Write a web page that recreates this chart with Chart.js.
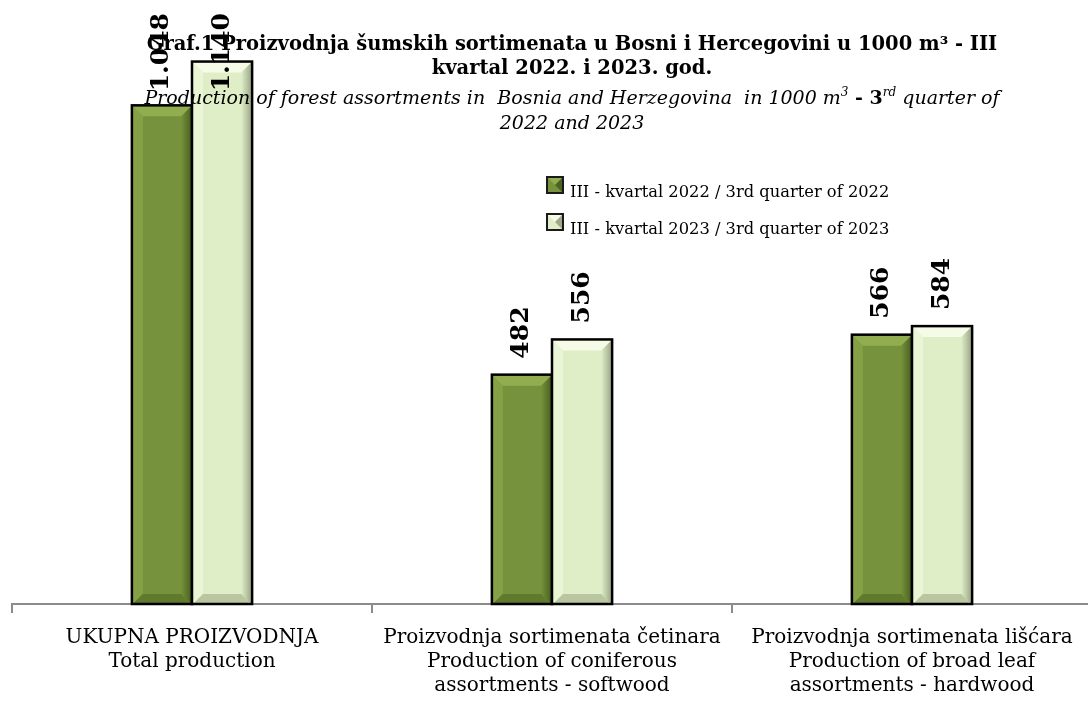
<!DOCTYPE html>
<html lang="bs">
<head>
    <meta charset="UTF-8">
    <title>Graf.1 Proizvodnja šumskih sortimenata</title>
    <script src="https://cdn.jsdelivr.net/npm/chart.js"></script>
    <style>
        html, body { margin: 0; padding: 0; background: #fff; overflow: hidden; }
        .wrap { width: 1092px; height: 702px; }
    </style>
</head>
<body>
    <div class="wrap"><canvas id="prodChart"></canvas></div>

    <script>
    // data (1000 m3)
    const categories = [
        ['UKUPNA PROIZVODNJA', 'Total production'],
        ['Proizvodnja sortimenata četinara', 'Production of coniferous', 'assortments - softwood'],
        ['Proizvodnja sortimenata lišćara', 'Production of broad leaf', 'assortments - hardwood']
    ];
    const values2022 = [1048, 482, 566];
    const values2023 = [1140, 556, 584];
    const seriesNames = ['III - kvartal 2022 / 3rd quarter of 2022', 'III - kvartal 2023 / 3rd quarter of 2023'];

    const SERIF = '"DejaVu Serif", "Liberation Serif", serif';

    // face / bevel colours for each series
    const palette = [
        { face: '#76923c', top: '#91ad4f', left: '#84a145', right: '#4c6221', bottom: '#5f7a2c' },
        { face: '#e0eec8', top: '#f5fbe7', left: '#eaf5d6', right: '#9ea88a', bottom: '#b9c6a0' }
    ];

    function fmt(v) {
        return String(v).replace(/\B(?=(\d{3})+(?!\d))/g, '.');
    }

    function poly(ctx, pts, fill) {
        ctx.fillStyle = fill;
        ctx.beginPath();
        ctx.moveTo(pts[0][0], pts[0][1]);
        for (let k = 1; k < pts.length; k++) ctx.lineTo(pts[k][0], pts[k][1]);
        ctx.closePath();
        ctx.fill();
    }

    // bevelled bars + rotated value labels
    const bevelPlugin = {
        id: 'bevel',
        afterDatasetsDraw(chart) {
            const ctx = chart.ctx;
            chart.data.datasets.forEach((ds, i) => {
                const meta = chart.getDatasetMeta(i);
                const c = palette[i];
                meta.data.forEach((bar, j) => {
                    const l = bar.x - bar.width / 2 + 1;
                    const r = bar.x + bar.width / 2 - 1;
                    const t = bar.y + 1;
                    const b = bar.base;
                    const s = 10;
                    ctx.save();
                    poly(ctx, [[l, t], [l + s, t + s], [l + s, b - s], [l, b]], c.left);
                    const g = ctx.createLinearGradient(r - s, 0, r, 0);
                    g.addColorStop(0, c.face);
                    g.addColorStop(1, c.right);
                    poly(ctx, [[r, t], [r - s, t + s], [r - s, b - s], [r, b]], g);
                    poly(ctx, [[l, t], [r, t], [r - s, t + s], [l + s, t + s]], c.top);
                    poly(ctx, [[l, b], [r, b], [r - s, b - s], [l + s, b - s]], c.bottom);
                    ctx.strokeStyle = '#000';
                    ctx.lineWidth = 2.5;
                    ctx.strokeRect(bar.x - bar.width / 2, bar.y, bar.width, bar.base - bar.y);
                    ctx.restore();

                    // value label, rotated, kept inside the canvas
                    ctx.save();
                    ctx.font = 'bold 25px ' + SERIF;
                    const txt = fmt(ds.data[j]);
                    const w = ctx.measureText(txt).width;
                    let y0 = bar.y - 16;
                    if (y0 - w < 13) y0 = 13 + w;
                    ctx.translate(bar.x, y0);
                    ctx.rotate(-Math.PI / 2);
                    ctx.fillStyle = '#000';
                    ctx.textAlign = 'left';
                    ctx.textBaseline = 'middle';
                    ctx.fillText(txt, 0, 0);
                    ctx.restore();
                });
            });
        }
    };

    function drawRuns(ctx, runs, cx, y) {
        let total = 0;
        runs.forEach(r => { ctx.font = r.font; total += ctx.measureText(r.text).width; });
        let x = cx - total / 2;
        runs.forEach(r => {
            ctx.font = r.font;
            ctx.fillText(r.text, x, y + (r.dy || 0));
            x += ctx.measureText(r.text).width;
        });
    }

    // titles and legend
    const headerPlugin = {
        id: 'header',
        afterDraw(chart) {
            const ctx = chart.ctx;
            const cx = 572;
            ctx.save();
            ctx.fillStyle = '#000';
            ctx.textAlign = 'left';
            ctx.textBaseline = 'alphabetic';
            const bold = 'bold 19.5px ' + SERIF;
            drawRuns(ctx, [{ text: 'Graf.1 Proizvodnja šumskih sortimenata u Bosni i Hercegovini u 1000 m³ - III', font: bold }], cx, 50);
            drawRuns(ctx, [{ text: 'kvartal 2022. i 2023. god.', font: bold }], cx, 74);
            const it = 'italic 19px ' + SERIF;
            const itSup = 'italic 12px ' + SERIF;
            drawRuns(ctx, [
                { text: 'Production of forest assortments in  Bosnia and Herzegovina  in 1000 m', font: it },
                { text: '3', font: itSup, dy: -8 },
                { text: ' - 3', font: 'bold 19px ' + SERIF },
                { text: 'rd', font: itSup, dy: -8 },
                { text: ' quarter of', font: it }
            ], cx, 104);
            drawRuns(ctx, [{ text: '2022 and 2023', font: it }], cx, 129);

            // legend
            const lx = 546, ly = [176, 213];
            chart.data.datasets.forEach((ds, i) => {
                const c = palette[i];
                const y = ly[i];
                const s = 18;
                ctx.fillStyle = '#1a1a1a';
                ctx.fillRect(lx, y, s, s);
                poly(ctx, [[lx + 2, y + 2], [lx + s - 2, y + 2], [lx + s - 2, y + s - 2], [lx + 2, y + s - 2]], c.face);
                poly(ctx, [[lx + 2, y + 2], [lx + s - 2, y + 2], [lx + s / 2, y + s / 2]], c.top);
                poly(ctx, [[lx + s - 2, y + 2], [lx + s - 2, y + s - 2], [lx + s / 2, y + s / 2]], c.right);
                ctx.font = '16.3px ' + SERIF;
                ctx.fillStyle = '#000';
                ctx.textBaseline = 'middle';
                ctx.fillText(seriesNames[i], 570, y + 17);
            });
            ctx.restore();
        }
    };

    new Chart(document.getElementById('prodChart'), {
        type: 'bar',
        data: {
            labels: categories,
            datasets: [
                { label: seriesNames[0], data: values2022, backgroundColor: palette[0].face, borderWidth: 0 },
                { label: seriesNames[1], data: values2023, backgroundColor: palette[1].face, borderWidth: 0 }
            ]
        },
        options: {
            responsive: true,
            maintainAspectRatio: false,
            animation: false,
            layout: { padding: { left: 12, right: 0, top: 33, bottom: 0 } },
            datasets: { bar: { categoryPercentage: 0.334, barPercentage: 1 } },
            plugins: {
                legend: { display: false },
                title: { display: false },
                tooltip: { enabled: false }
            },
            scales: {
                y: { display: false, min: 0, max: 1200 },
                x: {
                    afterFit(scale) { scale.height = 98; },
                    border: { display: true, color: '#8c8c8c', width: 2 },
                    grid: { offset: true, drawOnChartArea: false, drawTicks: true, tickLength: 9, color: '#8c8c8c', lineWidth: 2 },
                    ticks: {
                        color: '#000',
                        padding: 13,
                        maxRotation: 0,
                        autoSkip: false,
                        font: { family: SERIF, size: 20, lineHeight: '24px' }
                    }
                }
            }
        },
        plugins: [bevelPlugin, headerPlugin]
    });
    </script>
</body>
</html>
